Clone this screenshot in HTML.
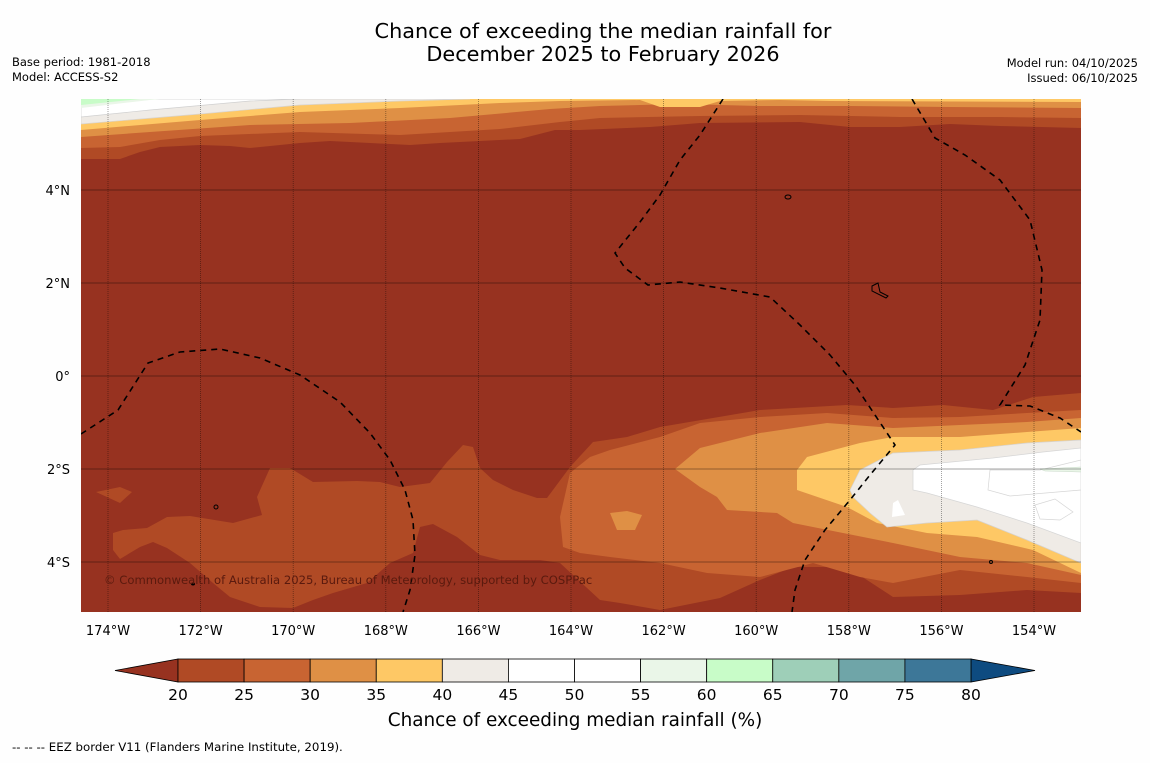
<!DOCTYPE html>
<html><head><meta charset="utf-8">
<style>
html,body{margin:0;padding:0;background:#fefefe;}
body{width:1150px;height:758px;overflow:hidden;font-family:"Liberation Sans","DejaVu Sans",sans-serif;}
svg text{font-family:"DejaVu Sans","Liberation Sans",sans-serif;}
</style></head>
<body>
<svg id="chart" width="1150" height="758" viewBox="0 0 1150 758" xmlns="http://www.w3.org/2000/svg">
<rect x="0" y="0" width="1150" height="758" fill="#fefefe"/>
<text x="603" y="38" font-size="20.8" text-anchor="middle" fill="#000">Chance of exceeding the median rainfall for</text>
<text x="603" y="61" font-size="20.8" text-anchor="middle" fill="#000">December 2025 to February 2026</text>
<text x="12" y="66" font-size="11.5" fill="#000">Base period: 1981-2018</text>
<text x="12" y="81" font-size="11.5" fill="#000">Model: ACCESS-S2</text>
<text x="1138" y="67" font-size="11.5" text-anchor="end" fill="#000">Model run: 04/10/2025</text>
<text x="1138" y="82" font-size="11.5" text-anchor="end" fill="#000">Issued: 06/10/2025</text>

<defs><clipPath id="mapclip"><rect x="81" y="99" width="1000" height="513"/></clipPath></defs>
<g clip-path="url(#mapclip)">
  <rect x="81" y="99" width="1000" height="513" fill="#973220"/>
  <path fill="#b04a25" d="M81,99 L81,159 120,159 140,152 160,147 200,145 230,146 250,148 300,143 330,141 370,143 410,145 440,143 480,141 520,139 555,130 580,130 650,127 700,123 800,122 850,127 900,127 950,124 1000,126 1081,128 1081,99Z"/>
  <path fill="#c86432" d="M81,99 L81,148 120,147 160,140 200,136 300,132 400,135 500,129 560,122 600,118 700,116 800,115 900,117 1000,117 1081,118 1081,99Z"/>
  <path fill="#df9045" d="M81,99 L81,137 150,132 250,125 350,123 450,118 550,109 600,106 680,104 760,106 850,106 950,107 1081,108 1081,99Z"/>
  <path fill="#fec865" d="M81,99 L81,130 200,120 300,112 400,108 500,103 560,101 640,100 660,107 700,107 720,101 780,100 830,101 1081,102 1081,99Z"/>
  <path fill="#efebe6" stroke="#d8d4d0" stroke-width="0.7" d="M81,99 L81,124 200,114 300,105 400,101 470,99Z"/>
  <path fill="#ffffff" stroke="#d0d0d0" stroke-width="0.7" d="M81,99 L81,117 150,110 250,101 300,99Z"/>
  <path fill="#eaf6e8" d="M81,99 L81,108 150,100 160,99Z"/>
  <path fill="#c8fcc8" d="M81,99 L81,105 140,99Z"/>
  <path fill="#b04a25" d="M113,533 L123,530 147,528 167,517 190,516 233,523 262,515 257,497 270,468 290,468 313,482 357,481 380,482 400,487 430,483 447,462 463,445 473,447 480,468 493,480 513,490 537,498 547,498 570,467 593,442 627,437 660,427 760,410 847,405 893,408 943,405 993,410 1033,397 1081,393 1081,593 1027,590 960,595 893,597 847,567 793,567 760,580 720,598 660,610 620,603 600,600 560,563 540,560 500,560 480,555 457,537 433,524 420,527 413,553 390,563 367,583 333,593 313,600 293,608 260,607 230,597 213,583 190,563 167,548 153,542 140,547 120,559 113,550Z M283,513 L307,500 315,499 342,516 313,524Z"/>
  <path fill="#b04a25" d="M96,492 L120,487 132,492 120,503Z"/>
  <path fill="#c86432" d="M563,547 L560,517 570,473 590,457 610,450 660,437 700,423 760,417 827,413 893,418 960,417 1027,413 1081,410 1081,583 1027,577 960,570 893,583 860,577 813,563 760,577 707,573 660,563 610,557 580,553Z"/>
  <path fill="#df9045" d="M675,469 L700,448 760,433 827,423 893,428 960,425 1027,422 1081,418 1081,575 1027,563 960,557 893,543 843,533 793,523 777,513 727,510 717,497 700,487Z"/>
  <path fill="#df9045" d="M610,513 L627,511 642,515 635,530 617,530Z"/>
  <path fill="#fec865" d="M797,490 L797,470 807,457 860,443 893,437 960,437 1027,432 1081,428 1081,573 1033,550 977,537 927,533 877,523 847,507Z"/>
  <path fill="#efebe6" stroke="#d6d2ce" stroke-width="0.7" d="M850,490 L860,470 893,453 960,450 1027,443 1081,440 1081,563 1027,540 977,520 927,523 887,527 870,513 853,497Z"/>
  <path fill="#ffffff" stroke="#d6d6d6" stroke-width="0.7" d="M913,470 L920,465 993,458 1043,452 1081,448 1081,543 1027,523 977,507 927,493 913,490Z"/>
  <path fill="#ffffff" d="M893,503 L898,500 905,515 892,517Z"/>
  <path fill="none" stroke="#d6d6d6" stroke-width="0.7" d="M1081,460 L1040,470 990,470 988,490 1010,496 1081,490"/>
  <path fill="none" stroke="#d6d6d6" stroke-width="0.7" d="M1035,505 L1055,499 1073,512 1060,520 1040,519Z"/>
  <path fill="#eaf6e8" stroke="#c8d8c8" stroke-width="0.5" d="M1040,469 L1081,467 1081,472 1045,471Z"/>
  <g id="grid"></g>
  <ellipse cx="788" cy="197" rx="3" ry="2" fill="none" stroke="#000" stroke-width="1"/>
  <path d="M872,286 L878,283 880,292 888,296 886,298 872,291Z" fill="none" stroke="#000" stroke-width="1"/>
  <ellipse cx="216" cy="507" rx="2" ry="2" fill="none" stroke="#000" stroke-width="1"/>
  <ellipse cx="193" cy="584" rx="2" ry="1.5" fill="#000"/>
  <ellipse cx="991" cy="562" rx="1.5" ry="1.5" fill="none" stroke="#000"/>
  <g fill="none" stroke="#000" stroke-width="1.6" stroke-dasharray="6,5">
    <path d="M81,434 L118,410 148,363 180,352 220,349 260,358 300,375 340,402 370,433 390,460 405,490 413,520 415,555 410,590 403,612"/>
    <path d="M723,99 L700,135 680,160 660,195 640,222 615,253 625,268 648,285 680,282 720,288 770,297 800,325 830,355 855,385 875,415 895,445 870,475 850,500 825,530 805,560 795,590 792,612"/>
    <path d="M912,99 L935,138 965,155 1000,180 1030,220 1042,270 1040,320 1025,365 1000,405 1030,406 1060,418 1081,432"/>
  </g>
  <text x="104" y="584" font-size="11.6" fill="#5a1a0e">© Commonwealth of Australia 2025, Bureau of Meteorology, supported by COSPPac</text>
</g>
<g id="axes"></g>
<g id="colorbar"></g>
<text x="575" y="726" font-size="18.4" text-anchor="middle" fill="#000">Chance of exceeding median rainfall (%)</text>
<text x="12" y="751" font-size="11.8" fill="#000">--  --  -- EEZ border V11 (Flanders Marine Institute, 2019).</text>
</svg>
<script>
const lonTicks = [174,172,170,168,166,164,162,160,158,156,154];
const latTicks = [4,2,0,-2,-4];
const cbLevels = [20,25,30,35,40,45,50,55,60,65,70,75,80];
const cbColors = ["#b04a25","#c86432","#df9045","#fec865","#efebe6","#ffffff","#ffffff","#eaf6e8","#c8fcc8","#9ecfb8","#6fa5a8","#3d7798"];
const cbUnder = "#973220";
const cbOver = "#0e4b80";
const NS = "http://www.w3.org/2000/svg";
function xLon(w){ return 108 + (174 - w) * 46.3; }
function yLat(l){ return 376 - l * 46.5; }
function cbX(v){ return 178 + (v - 20) / 60 * 793; }
function mk(tag, attrs, parent){ const e=document.createElementNS(NS,tag); for(const k in attrs) e.setAttribute(k,attrs[k]); parent.appendChild(e); return e; }
const grid=document.getElementById('grid');
const axes=document.getElementById('axes');
lonTicks.forEach(w=>{
  const x=xLon(w);
  const l=mk('line',{x1:x,x2:x,y1:99,y2:612,stroke:'#000','stroke-opacity':'0.45','stroke-width':'0.8','stroke-dasharray':'1,1'},grid);
  
  
  const t=mk('text',{x:x,y:635,'font-size':'13','text-anchor':'middle',fill:'#000'},axes);
  t.textContent=w+'°W';
  
  
});
latTicks.forEach(v=>{
  const y=yLat(v);
  const l=mk('line',{x1:81,x2:1081,y1:y,y2:y,stroke:'#000','stroke-opacity':'0.35','stroke-width':'0.9'},grid);
  
  
  const t=mk('text',{x:70,y:y+5,'font-size':'13','text-anchor':'end',fill:'#000'},axes);
  t.textContent = v===0 ? '0°' : Math.abs(v)+'°'+(v>0?'N':'S');
  
  
});
const cb=document.getElementById('colorbar');
const y0=659,y1=682,ym=670.5;
const under=mk('polygon',{points:`115,${ym} ${cbX(20)},${y0} ${cbX(20)},${y1}`,fill:cbUnder,stroke:'#000','stroke-width':'0.8'},cb);


const over=mk('polygon',{points:`1035,${ym} ${cbX(80)},${y0} ${cbX(80)},${y1}`,fill:cbOver,stroke:'#000','stroke-width':'0.8'},cb);


cbColors.forEach((c,i)=>{
  const a=cbX(cbLevels[i]), b=cbX(cbLevels[i+1]);
  const r=mk('rect',{x:a,y:y0,width:b-a,height:y1-y0,fill:c,stroke:'#000','stroke-width':'0.8'},cb);
  
  
});
cbLevels.forEach(v=>{
  const t=mk('text',{x:cbX(v),y:700,'font-size':'15.5','text-anchor':'middle',fill:'#000'},cb);
  t.textContent=v;
  
  
});
</script>
</body></html>
